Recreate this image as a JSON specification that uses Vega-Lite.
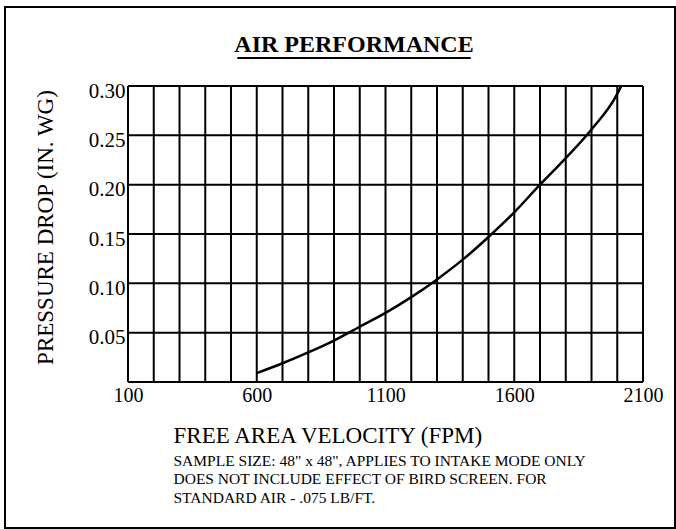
{
  "$schema": "https://vega.github.io/schema/vega-lite/v6.json",
  "width": 670,
  "height": 521,
  "autosize": "none",
  "padding": {"left": 5, "top": 7, "right": 1, "bottom": 1},
  "background": "white",
  "config": {
    "view": {"stroke": "black", "strokeWidth": 2},
    "font": "Liberation Serif",
    "axis": {"labelColor": "black", "titleColor": "black", "labelFont": "Liberation Serif", "titleFont": "Liberation Serif"}
  },
  "title": {
    "text": "AIR PERFORMANCE",
    "subtitle": ["‾‾‾‾‾‾‾‾‾‾‾‾‾‾‾‾‾‾‾‾‾‾‾‾‾‾‾‾‾", "‾‾‾‾‾‾‾‾‾‾‾‾‾‾‾‾‾‾‾‾‾‾‾‾‾‾‾‾‾"],
    "anchor": "middle",
    "frame": "group",
    "offset": -75,
    "dx": 14,
    "font": "Liberation Serif",
    "fontSize": 24,
    "fontWeight": "bold",
    "color": "black",
    "subtitleFont": "Liberation Serif",
    "subtitleFontSize": 24,
    "subtitleFontWeight": "bold",
    "subtitleColor": "black",
    "subtitleLineHeight": 1.5,
    "subtitlePadding": 0
  },
  "datasets": {
    "vgrid": [
      {"fpm": 100}, {"fpm": 200}, {"fpm": 300}, {"fpm": 400}, {"fpm": 500}, {"fpm": 600}, {"fpm": 700},
      {"fpm": 800}, {"fpm": 900}, {"fpm": 1000}, {"fpm": 1100}, {"fpm": 1200}, {"fpm": 1300}, {"fpm": 1400},
      {"fpm": 1500}, {"fpm": 1600}, {"fpm": 1700}, {"fpm": 1800}, {"fpm": 1900}, {"fpm": 2000}, {"fpm": 2100}
    ],
    "hgrid": [
      {"pd": 0}, {"pd": 0.05}, {"pd": 0.1}, {"pd": 0.15}, {"pd": 0.2}, {"pd": 0.25}, {"pd": 0.3}
    ],
    "curve": [
      {"fpm": 600, "pd": 0.009},
      {"fpm": 700, "pd": 0.019},
      {"fpm": 800, "pd": 0.030},
      {"fpm": 900, "pd": 0.042},
      {"fpm": 1000, "pd": 0.056},
      {"fpm": 1100, "pd": 0.070},
      {"fpm": 1200, "pd": 0.086},
      {"fpm": 1300, "pd": 0.104},
      {"fpm": 1400, "pd": 0.124},
      {"fpm": 1500, "pd": 0.147},
      {"fpm": 1600, "pd": 0.172},
      {"fpm": 1700, "pd": 0.200},
      {"fpm": 1800, "pd": 0.227},
      {"fpm": 1900, "pd": 0.256},
      {"fpm": 2000, "pd": 0.292},
      {"fpm": 2015, "pd": 0.300}
    ]
  },
  "layer": [
    {
      "data": {"name": "hgrid"},
      "mark": {"type": "rule", "color": "black", "strokeWidth": 2},
      "encoding": {
        "y": {
          "field": "pd", "type": "quantitative",
          "scale": {"domain": [0, 0.3], "range": [375, 79], "nice": false, "zero": false},
          "axis": {
            "title": "PRESSURE DROP (IN. WG)",
            "offset": -123, "values": [0.05, 0.1, 0.15, 0.2, 0.25, 0.3], "format": ".2f",
            "grid": false, "domain": false, "ticks": false, "tickSize": 0, "labelPadding": 3,
            "labelFontSize": 21, "labelBaseline": "middle", "labelOffset": 5,
            "titleFontSize": 23, "titleFontWeight": "normal",
            "titleX": -71, "titleY": 220, "titleAngle": -90, "titleBaseline": "bottom", "titleAlign": "center"
          }
        },
        "x": {"datum": 100, "type": "quantitative", "axis": null},
        "x2": {"datum": 2100}
      }
    },
    {
      "data": {"name": "vgrid"},
      "mark": {"type": "rule", "color": "black", "strokeWidth": 2},
      "encoding": {
        "x": {
          "field": "fpm", "type": "quantitative",
          "scale": {"domain": [100, 2100], "range": [123, 638], "nice": false, "zero": false},
          "axis": {
            "orient": "bottom", "offset": -146, "labels": false, "ticks": false, "domain": false, "grid": false,
            "title": ["SAMPLE SIZE:  48\" x 48\", APPLIES TO INTAKE MODE ONLY", "DOES NOT INCLUDE EFFECT OF BIRD SCREEN.  FOR", "STANDARD AIR - .075 LB/FT."],
            "titleFontSize": 15.5, "titleFontWeight": "normal", "titleX": 168, "titleY": 83,
            "titleAlign": "left", "titleBaseline": "alphabetic", "titleLineHeight": 18.5
          }
        },
        "y": {
          "datum": 0, "type": "quantitative",
          "axis": {
            "title": "PRESSURE DROP (IN. WG)",
            "offset": -123, "values": [0.05, 0.1, 0.15, 0.2, 0.25, 0.3], "format": ".2f",
            "grid": false, "domain": false, "ticks": false, "tickSize": 0, "labelPadding": 3,
            "labelFontSize": 21, "labelBaseline": "middle", "labelOffset": 5,
            "titleFontSize": 23, "titleFontWeight": "normal",
            "titleX": -71, "titleY": 220, "titleAngle": -90, "titleBaseline": "bottom", "titleAlign": "center"
          }
        },
        "y2": {"datum": 0.3}
      }
    },
    {
      "data": {"name": "curve"},
      "mark": {"type": "line", "color": "black", "strokeWidth": 2.5, "interpolate": "monotone"},
      "encoding": {
        "x": {
          "field": "fpm", "type": "quantitative",
          "axis": {
            "orient": "bottom", "offset": -146, "values": [100, 600, 1100, 1600, 2100], "format": "d",
            "grid": false, "domain": false, "ticks": false, "tickSize": 0, "labelPadding": 3,
            "labelFontSize": 20, "labelFlush": false, "labelOverlap": false,
            "title": "FREE AREA VELOCITY (FPM)", "titleFontSize": 23, "titleFontWeight": "normal",
            "titleX": 168, "titleY": 42, "titleAlign": "left", "titleBaseline": "top"
          }
        },
        "y": {
          "field": "pd", "type": "quantitative",
          "axis": {
            "title": "PRESSURE DROP (IN. WG)",
            "offset": -123, "values": [0.05, 0.1, 0.15, 0.2, 0.25, 0.3], "format": ".2f",
            "grid": false, "domain": false, "ticks": false, "tickSize": 0, "labelPadding": 3,
            "labelFontSize": 21, "labelBaseline": "middle", "labelOffset": 5,
            "titleFontSize": 23, "titleFontWeight": "normal",
            "titleX": -71, "titleY": 220, "titleAngle": -90, "titleBaseline": "bottom", "titleAlign": "center"
          }
        }
      }
    }
  ],
  "resolve": {"axis": {"x": "independent", "y": "shared"}}
}
